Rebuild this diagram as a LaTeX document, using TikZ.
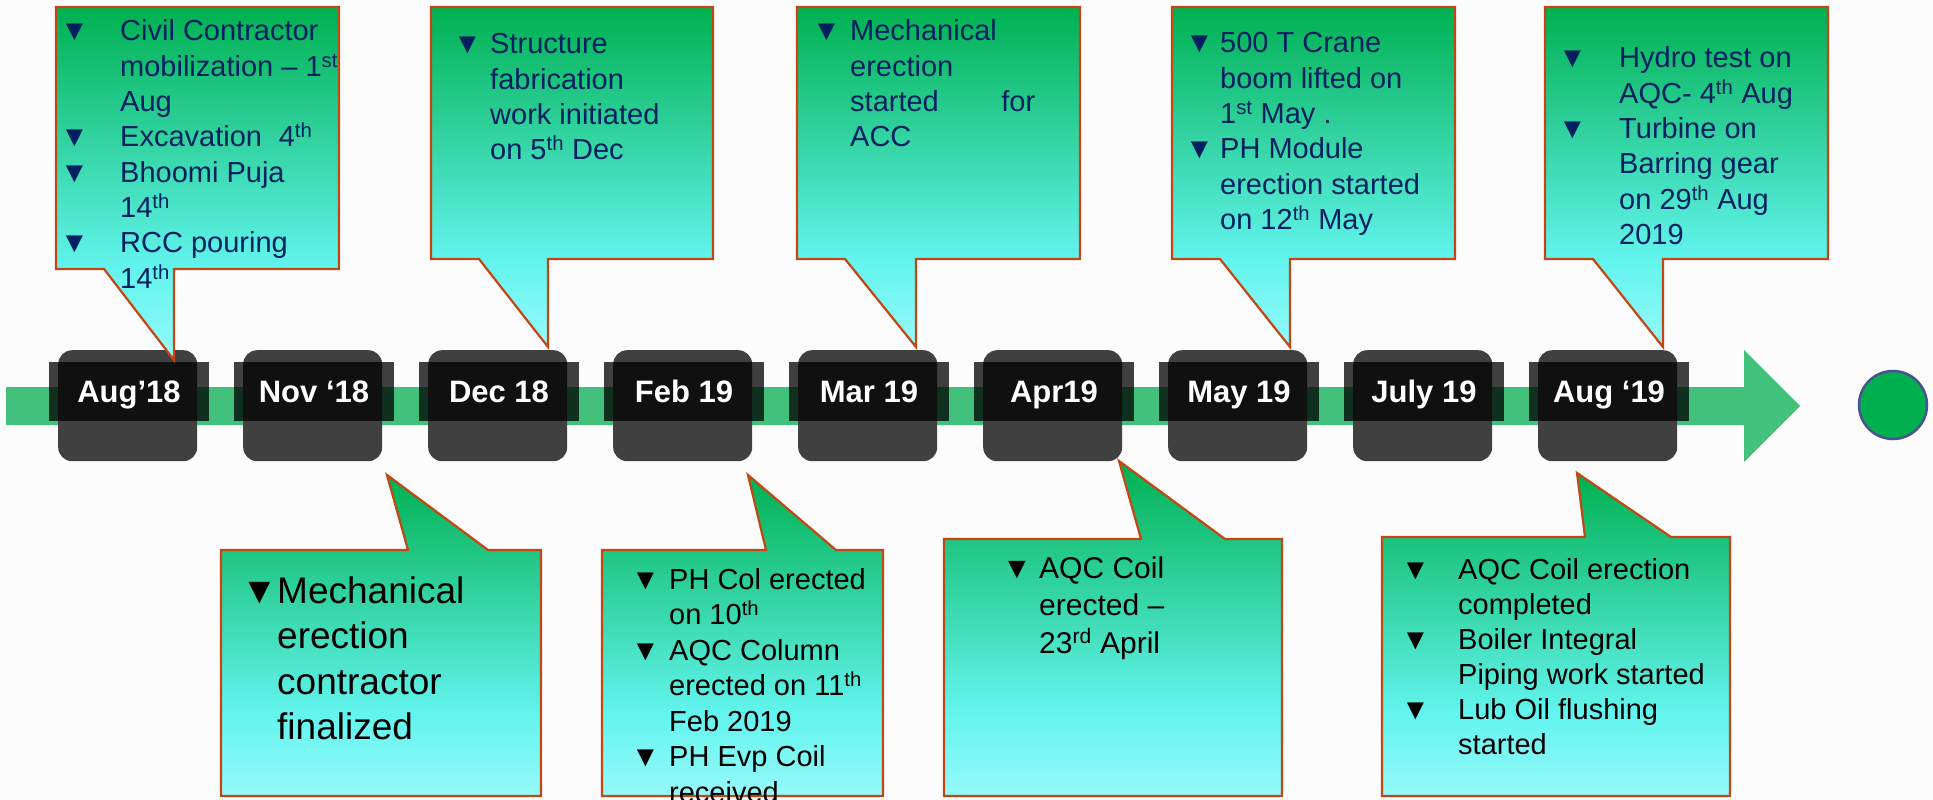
\documentclass[tikz,border=0pt]{standalone}
\usepackage{fontspec}
\setmainfont{Liberation Sans}

\definecolor{bgc}{RGB}{252,252,252}
\definecolor{barc}{RGB}{66,193,124}
\definecolor{boxgray}{RGB}{64,64,64}
\definecolor{edgec}{RGB}{196,70,20}
\definecolor{navy}{RGB}{0,32,96}
\definecolor{cgreen}{RGB}{0,176,80}
\definecolor{ccyan}{RGB}{98,244,238}
\definecolor{clight}{RGB}{150,250,250}
\definecolor{dotfill}{RGB}{0,176,80}
\definecolor{dotedge}{RGB}{72,82,140}

% green at the top, cyan towards the bottom of each callout
\pgfdeclareverticalshading{calloutfill}{100bp}{color(0bp)=(clight); color(25bp)=(clight); color(38bp)=(ccyan); color(75bp)=(cgreen); color(100bp)=(cgreen)}

% bullet hanging to the left of a text line
\newcommand\bul[1]{\llap{\makebox[#1][l]{▼}}}

\tikzset{
  callout/.style={shade, shading=calloutfill, draw=edgec, line width=2.2pt, line join=miter},
  datebox/.style={fill=boxgray, rounded corners=14pt, inner sep=0pt, minimum width=139pt, minimum height=111pt, anchor=north west},
  labelbar/.style={fill=black, fill opacity=0.75, inner sep=0pt, minimum width=160pt, minimum height=59pt, anchor=north west},
  datelabel/.style={text=white, inner sep=0pt, anchor=base, font=\fontsize{31}{37}\selectfont\bfseries},
  toptext/.style={anchor=base west, inner sep=0pt, text=navy, font=\fontsize{29}{35.3}\selectfont},
  bottext/.style={anchor=base west, inner sep=0pt, text=black, font=\fontsize{29}{35.5}\selectfont}
}

\begin{document}
\begin{tikzpicture}[x=1pt, y=-1pt]
  \fill[bgc] (0,0) rectangle (1933,800);
  \useasboundingbox (0,0) rectangle (1933,800);

  % timeline arrow
  \fill[barc] (6,387) -- (1744,387) -- (1744,350) -- (1800,406) -- (1744,462) -- (1744,425) -- (6,425) -- cycle;

  % end marker
  \node[circle, fill=dotfill, draw=dotedge, line width=2.5pt, minimum size=68pt, inner sep=0pt] (endmark) at (1893,405) {};

  % month boxes
  \foreach \lab [count=\i from 0] in {Aug’18, Nov ‘18, Dec 18, Feb 19, Mar 19, Apr19, May 19, July 19, Aug ‘19} {
    \pgfmathsetmacro\L{58+185*\i}
    \node[datebox] (d\i) at (\L,350) {};
    \node[labelbar] (b\i) at (\L-9,362) {};
    \node[datelabel] (t\i) at (\L+71,402) {\lab};
  }

  % callouts above the timeline
  \path[callout] (56,7) -- (339,7) -- (339,269) -- (174,269) -- (174,360) -- (104,269) -- (56,269) -- cycle;
  \path[callout] (431,7) -- (713,7) -- (713,259) -- (548,259) -- (548,347) -- (479,259) -- (431,259) -- cycle;
  \path[callout] (797,7) -- (1080,7) -- (1080,259) -- (916,259) -- (916,347) -- (845,259) -- (797,259) -- cycle;
  \path[callout] (1172,7) -- (1455,7) -- (1455,259) -- (1290,259) -- (1290,347) -- (1220,259) -- (1172,259) -- cycle;
  \path[callout] (1545,7) -- (1828,7) -- (1828,259) -- (1663,259) -- (1663,347) -- (1593,259) -- (1545,259) -- cycle;

  % callouts below the timeline
  \path[callout] (221,550) -- (408,550) -- (387,475) -- (488,550) -- (541,550) -- (541,796) -- (221,796) -- cycle;
  \path[callout] (602,550) -- (766,550) -- (748,475) -- (836,550) -- (883,550) -- (883,796) -- (602,796) -- cycle;
  \path[callout] (944,539) -- (1141,539) -- (1119,461) -- (1225,539) -- (1282,539) -- (1282,796) -- (944,796) -- cycle;
  \path[callout] (1382,537) -- (1585,537) -- (1577,473) -- (1671,537) -- (1730,537) -- (1730,796) -- (1382,796) -- cycle;

  % texts above
  \node[toptext] (c1) at (120,41) {\begin{tabular}[t]{@{}l@{}}
    \bul{60pt}Civil Contractor\\
    mobilization – 1\textsuperscript{st}\\
    Aug\\
    \bul{60pt}Excavation\hspace{0.3em} 4\textsuperscript{th}\\
    \bul{60pt}Bhoomi Puja\\
    14\textsuperscript{th}\\
    \bul{60pt}RCC pouring\\
    14\textsuperscript{th}
  \end{tabular}};
  \node[toptext] (c2) at (490,54) {\begin{tabular}[t]{@{}l@{}}
    \bul{37pt}Structure\\
    fabrication\\
    work initiated\\
    on 5\textsuperscript{th} Dec
  \end{tabular}};
  \node[toptext] (c3) at (850,41) {\begin{tabular}[t]{@{}l@{}}
    \bul{38pt}Mechanical\\
    erection\\
    \hbox to 185pt{started\hfill for}\\
    ACC
  \end{tabular}};
  \node[toptext] (c4) at (1220,53) {\begin{tabular}[t]{@{}l@{}}
    \bul{35pt}500 T Crane\\
    boom lifted on\\
    1\textsuperscript{st} May .\\
    \bul{35pt}PH Module\\
    erection started\\
    on 12\textsuperscript{th} May
  \end{tabular}};
  \node[toptext] (c5) at (1619,68) {\begin{tabular}[t]{@{}l@{}}
    \bul{61pt}Hydro test on\\
    AQC- 4\textsuperscript{th} Aug\\
    \bul{61pt}Turbine on\\
    Barring gear\\
    on 29\textsuperscript{th} Aug\\
    2019
  \end{tabular}};

  % texts below
  \node[bottext, font=\fontsize{37}{45.6}\selectfont] (c6) at (277,603) {\begin{tabular}[t]{@{}l@{}}
    \bul{36pt}Mechanical\\
    erection\\
    contractor\\
    finalized
  \end{tabular}};
  \node[bottext] (c7) at (669,589) {\begin{tabular}[t]{@{}l@{}}
    \bul{38pt}PH Col erected\\
    on 10\textsuperscript{th}\\
    \bul{38pt}AQC Column\\
    erected on 11\textsuperscript{th}\\
    Feb 2019\\
    \bul{38pt}PH Evp Coil\\
    received
  \end{tabular}};
  \node[bottext, font=\fontsize{30}{37.5}\selectfont] (c8) at (1039,578) {\begin{tabular}[t]{@{}l@{}}
    \bul{37pt}AQC Coil\\
    erected –\\
    23\textsuperscript{rd} April
  \end{tabular}};
  \node[bottext, font=\fontsize{29}{35}\selectfont] (c9) at (1458,579) {\begin{tabular}[t]{@{}l@{}}
    \bul{57pt}AQC Coil erection\\
    completed\\
    \bul{57pt}Boiler Integral\\
    Piping work started\\
    \bul{57pt}Lub Oil flushing\\
    started
  \end{tabular}};
\end{tikzpicture}
\end{document}
